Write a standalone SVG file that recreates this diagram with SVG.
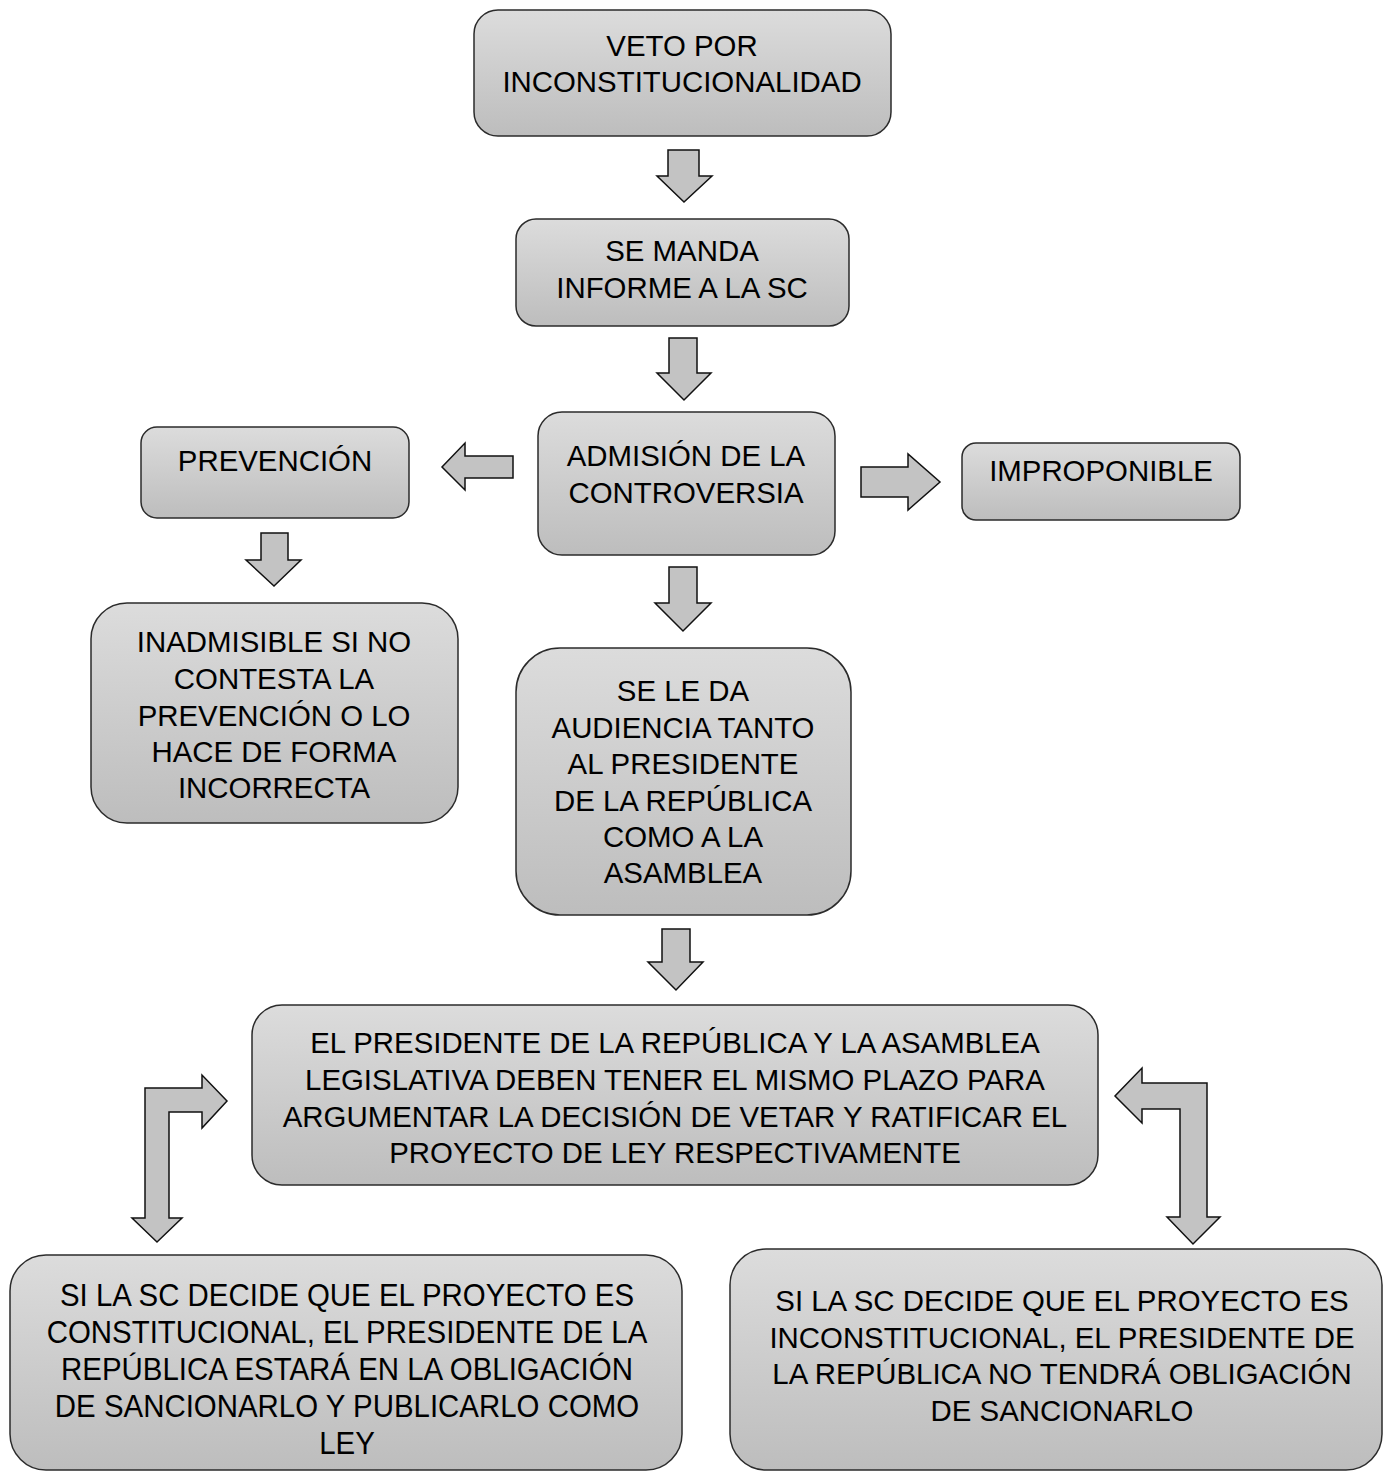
<svg xmlns="http://www.w3.org/2000/svg" width="1389" height="1479" viewBox="0 0 1389 1479">
<defs>
<linearGradient id="g" x1="0" y1="0" x2="0" y2="1">
<stop offset="0" stop-color="#dcdcdc"/>
<stop offset="1" stop-color="#bdbdbd"/>
</linearGradient>
</defs>
<style>
.box{fill:url(#g);stroke:#2b2b2b;stroke-width:1.5}
.arr{fill:#c3c3c3;stroke:#111;stroke-width:1.5;stroke-linejoin:miter}
text{font-family:"Liberation Sans",Arial,sans-serif;font-size:29.4px;fill:#000;text-anchor:middle}
.cond text{font-size:32px}
</style>
<rect width="1389" height="1479" fill="#fff"/>
<g id="connectors">
<path class="arr" d="M668,150 H699 V176 H712 L684,202 L657,176 H668 Z"/>
<path class="arr" d="M669,338 H697 V373 H711 L684,400 L657,373 H669 Z"/>
<path class="arr" d="M513,456 V478 H465 V490 L442,467 L465,443 V456 Z"/>
<path class="arr" d="M861,467 H908 V454 L940,482 L908,510 V497 H861 Z"/>
<path class="arr" d="M261,533 H288 V560 H301 L274,586 L246,560 H261 Z"/>
<path class="arr" d="M669,567 H697 V603 H711 L683,631 L655,603 H669 Z"/>
<path class="arr" d="M662,929 H690 V962 H703 L676,990 L648,962 H662 Z"/>
<path class="arr" d="M145,1218 V1088 H202 V1075 L227,1101 L202,1128 V1112 H169 V1218 H182 L157,1242 L132,1218 Z"/>
<path class="arr" d="M1207,1217 V1083 H1142 V1068 L1115,1096 L1142,1123 V1109 H1180 V1217 H1167 L1193,1244 L1220,1217 Z"/>
</g>
<g id="n1"><rect class="box" x="474" y="10" width="417" height="126" rx="24"/>
<text x="682" y="56">VETO POR</text><text x="682" y="92">INCONSTITUCIONALIDAD</text></g>
<g id="n2"><rect class="box" x="516" y="219" width="333" height="107" rx="20"/>
<text x="682" y="261">SE MANDA</text><text x="682" y="298">INFORME A LA SC</text></g>
<g id="n3"><rect class="box" x="538" y="412" width="297" height="143" rx="24"/>
<text x="686" y="466">ADMISIÓN DE LA</text><text x="686" y="503">CONTROVERSIA</text></g>
<g id="n4"><rect class="box" x="141" y="427" width="268" height="91" rx="16"/>
<text x="275" y="471">PREVENCIÓN</text></g>
<g id="n5"><rect class="box" x="962" y="443" width="278" height="77" rx="14"/>
<text x="1101" y="481">IMPROPONIBLE</text></g>
<g id="n6"><rect class="box" x="91" y="603" width="367" height="220" rx="36"/>
<text x="274" y="652">INADMISIBLE SI NO</text><text x="274" y="689">CONTESTA LA</text><text x="274" y="726">PREVENCIÓN O LO</text><text x="274" y="762">HACE DE FORMA</text><text x="274" y="798">INCORRECTA</text></g>
<g id="n7"><rect class="box" x="516" y="648" width="335" height="267" rx="44"/>
<text x="683" y="701">SE LE DA</text><text x="683" y="738">AUDIENCIA TANTO</text><text x="683" y="774">AL PRESIDENTE</text><text x="683" y="811">DE LA REPÚBLICA</text><text x="683" y="847">COMO A LA</text><text x="683" y="883">ASAMBLEA</text></g>
<g id="n8"><rect class="box" x="252" y="1005" width="846" height="180" rx="30"/>
<text x="675" y="1053">EL PRESIDENTE DE LA REPÚBLICA Y LA ASAMBLEA</text><text x="675" y="1090">LEGISLATIVA DEBEN TENER EL MISMO PLAZO PARA</text><text x="675" y="1127">ARGUMENTAR LA DECISIÓN DE VETAR Y RATIFICAR EL</text><text x="675" y="1163">PROYECTO DE LEY RESPECTIVAMENTE</text></g>
<g id="n9"><rect class="box" x="10" y="1255" width="672" height="215" rx="36"/>
<g class="cond" transform="translate(347,0) scale(0.92,1)">
<text x="0" y="1306">SI LA SC DECIDE QUE EL PROYECTO ES</text><text x="0" y="1343">CONSTITUCIONAL, EL PRESIDENTE DE LA</text><text x="0" y="1380">REPÚBLICA ESTARÁ EN LA OBLIGACIÓN</text><text x="0" y="1417">DE SANCIONARLO Y PUBLICARLO COMO</text><text x="0" y="1454">LEY</text></g></g>
<g id="n10"><rect class="box" x="730" y="1249" width="652" height="221" rx="36"/>
<text x="1062" y="1311">SI LA SC DECIDE QUE EL PROYECTO ES</text><text x="1062" y="1348">INCONSTITUCIONAL, EL PRESIDENTE DE</text><text x="1062" y="1384">LA REPÚBLICA NO TENDRÁ OBLIGACIÓN</text><text x="1062" y="1421">DE SANCIONARLO</text></g>
</svg>
